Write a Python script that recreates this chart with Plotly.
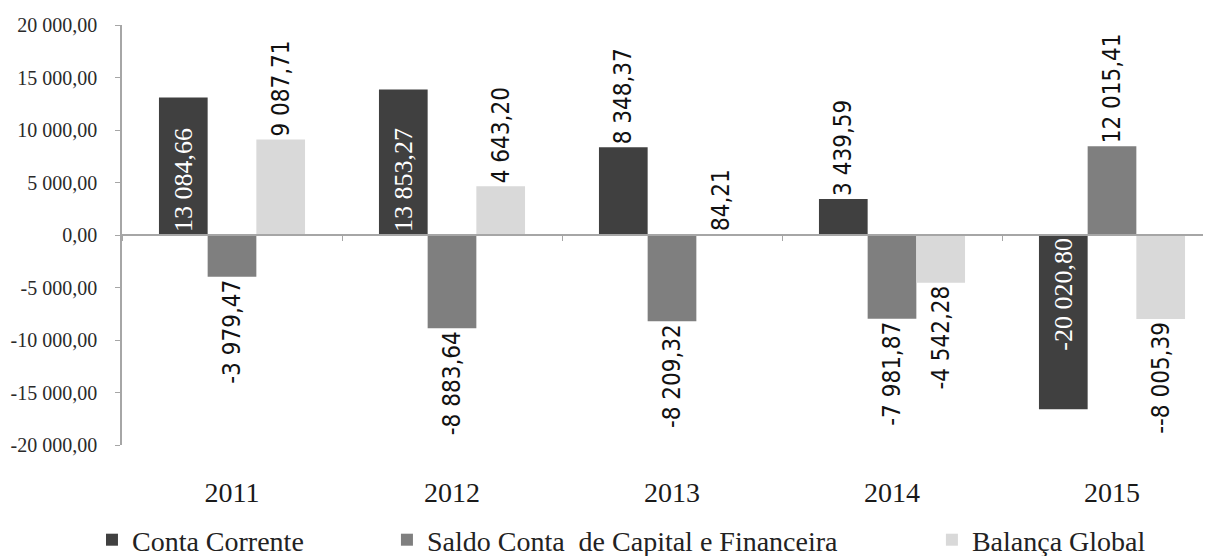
import plotly.graph_objects as go

years = ["2011", "2012", "2013", "2014", "2015"]
series_names = ["Conta Corrente", "Saldo Conta  de Capital e Financeira", "Balança Global"]

# bar heights as drawn in the picture
conta_corrente = [13084.66, 13853.27, 8348.37, 3439.59, -16600.0]
saldo_capital = [-3979.47, -8883.64, -8209.32, -7981.87, 8450.0]
balanca_global = [9087.71, 4643.20, 84.21, -4542.28, -8005.39]

# data labels as printed in the picture
cc_labels = ["13 084,66", "13 853,27", "8 348,37", "3 439,59", "-20 020,80"]
sc_labels = ["-3 979,47", "-8 883,64", "-8 209,32", "-7 981,87", "12 015,41"]
bg_labels = ["9 087,71", "4 643,20", "84,21", "-4 542,28", "--8 005,39"]

y_ticks = [-20000, -15000, -10000, -5000, 0, 5000, 10000, 15000, 20000]
y_tick_labels = ["-20 000,00", "-15 000,00", "-10 000,00", "-5 000,00", "0,00",
                 "5 000,00", "10 000,00", "15 000,00", "20 000,00"]

colors = ["#404040", "#7f7f7f", "#d9d9d9"]
SERIF = "Liberation Serif, Times New Roman, serif"
NARROW = "Liberation Sans Narrow, Arial Narrow, DejaVu Sans Condensed, sans-serif"

y_min, y_max = y_ticks[0], y_ticks[-1]
x_range = [-0.5, 4.45]

fig = go.Figure()
series = [
    (conta_corrente, cc_labels, ["inside", "inside", "outside", "outside", "inside"]),
    (saldo_capital, sc_labels, "outside"),
    (balanca_global, bg_labels, "outside"),
]
legend_ids = ["legend", "legend2", "legend3"]
for i, (vals, labs, pos) in enumerate(series):
    fig.add_trace(go.Bar(
        x=years, y=vals, name=series_names[i], text=labs,
        textposition=pos, textangle=-90, insidetextanchor="start",
        constraintext="none", cliponaxis=False,
        marker=dict(color=colors[i], line=dict(width=0)),
        insidetextfont=dict(family=SERIF, size=26, color="white"),
        outsidetextfont=dict(family=NARROW, size=24, color="#111111"),
        legend=legend_ids[i],
    ))

# invisible helper trace so the year-label axis is drawn
fig.add_trace(go.Scatter(
    x=list(range(len(years))), y=[None] * len(years), xaxis="x2", yaxis="y",
    mode="markers", showlegend=False, hoverinfo="skip",
))

zero_pos = (0 - y_min) / (y_max - y_min)

legend_common = dict(orientation="h", yanchor="middle", y=0.0292, xanchor="left",
                     xref="container", yref="container",
                     font=dict(family=SERIF, size=28, color="#222222"),
                     bgcolor="rgba(0,0,0,0)", itemwidth=30, tracegroupgap=0)

# the page body adds an 8px offset, so the figure is 8px smaller than the window
fig.update_layout(
    width=1203, height=548,
    margin=dict(l=114, r=0, t=17, b=111),
    plot_bgcolor="white", paper_bgcolor="white",
    barmode="group", bargap=0.336, bargroupgap=0,
    xaxis=dict(type="category", range=x_range, anchor="free", position=zero_pos,
               showline=True, linecolor="#a6a6a6", linewidth=1.5,
               ticks="outside", tickson="boundaries", ticklen=5, tickcolor="#a6a6a6",
               showticklabels=False, showgrid=False, zeroline=False, fixedrange=True),
    xaxis2=dict(type="linear", overlaying="x", anchor="y", side="bottom", range=x_range,
                tickmode="array", tickvals=list(range(len(years))), ticktext=years,
                showline=False, ticks="", showgrid=False, zeroline=False,
                ticklabelstandoff=28,
                tickfont=dict(family=SERIF, size=28, color="#1a1a1a")),
    yaxis=dict(range=[y_min, y_max], tickmode="array", tickvals=y_ticks, ticktext=y_tick_labels,
               showline=True, linecolor="#a6a6a6", linewidth=1.5,
               ticks="outside", ticklen=5, tickcolor="#a6a6a6",
               showgrid=False, zeroline=False, ticklabelstandoff=14,
               tickfont=dict(family=SERIF, size=20, color="#2a2a2a")),
    legend=dict(legend_common, x=0.0698),
    legend2=dict(legend_common, x=0.315),
    legend3=dict(legend_common, x=0.768),
    showlegend=True,
)

fig.write_html("out.html")
